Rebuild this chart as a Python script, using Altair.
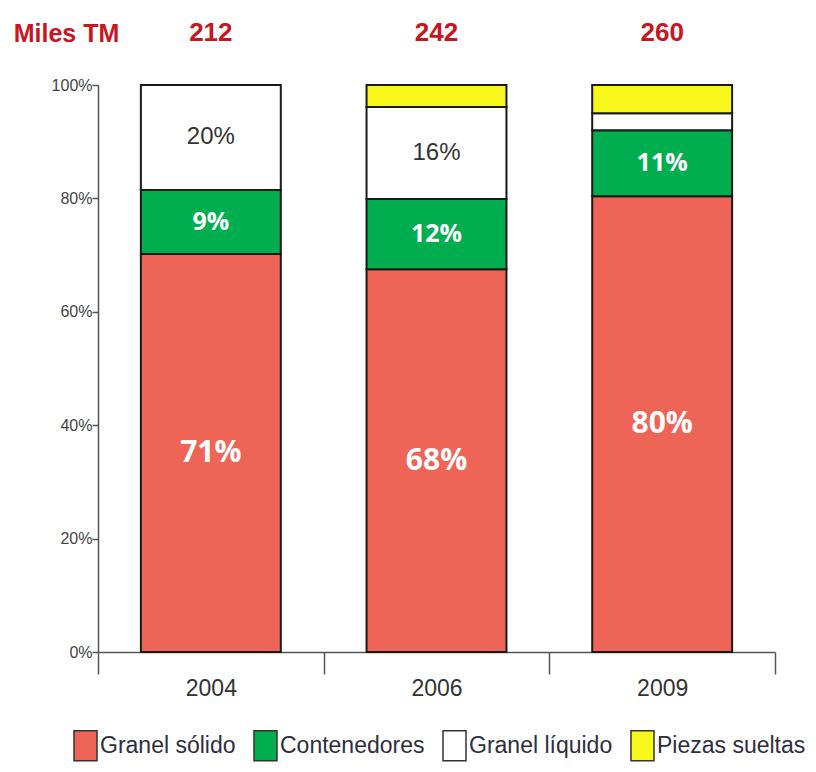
import altair as alt
import pandas as pd

years = ["2004", "2006", "2009"]
totals = ["212", "242", "260"]
categories = ["Granel sólido", "Contenedores", "Granel líquido", "Piezas sueltas"]
colors = ["#EE6558", "#00AD4F", "#FFFFFF", "#F7F71C"]
solido = [70.2, 67.5, 80.4]
contenedores = [11.3, 12.4, 11.6]
liquido = [18.5, 16.2, 3.0]
piezas = [0.0, 3.9, 5.0]
label_solido = ["71%", "68%", "80%"]
label_contenedores = ["9%", "12%", "11%"]
label_liquido = ["20%", "16%", ""]
label_piezas = ["", "", ""]
y_ticks = [0, 20, 40, 60, 80, 100]

series = [solido, contenedores, liquido, piezas]
labels = [label_solido, label_contenedores, label_liquido, label_piezas]

rows = []
for yi, yr in enumerate(years):
    base = 0.0
    for ci, cat in enumerate(categories):
        v = series[ci][yi]
        if v > 0:
            rows.append({"year": yr, "cat": cat, "idx": ci, "value": v,
                         "mid": base + v / 2, "label": labels[ci][yi]})
        base += v
df = pd.DataFrame(rows)
df_tot = pd.DataFrame({"year": years, "total": totals})

SANS = "Liberation Sans, Arial, sans-serif"
RED_TXT = "#C8151F"

x_enc = alt.X("year:N", sort=years,
              scale=alt.Scale(paddingInner=0, paddingOuter=0),
              axis=alt.Axis(title=None, labelAngle=0, tickBand="extent", tickSize=22,
                            tickColor="#555", tickWidth=1.5, domainColor="#555", domainWidth=1.5,
                            labelFont=SANS, labelFontSize=23, labelColor="#333",
                            labelPadding=3))

bars = alt.Chart(df).mark_bar(stroke="#1a1a1a", strokeWidth=2,
                              width=alt.RelativeBandSize(0.62)).encode(
    x=x_enc,
    y=alt.Y("value:Q", stack="zero",
            scale=alt.Scale(domain=[0, 100], nice=False),
            axis=alt.Axis(values=y_ticks, labelExpr="datum.value + '%'", grid=False,
                          title="Miles TM", titleAngle=0, titleX=-32, titleY=-52,
                          titleAlign="center", titleBaseline="middle",
                          titleFont=SANS, titleFontSize=25, titleFontWeight="bold",
                          titleColor=RED_TXT, tickSize=6, tickColor="#555", tickWidth=1.5,
                          domainColor="#555", domainWidth=1.5, labelPadding=0,
                          labelFont=SANS, labelFontSize=16, labelColor="#444")),
    color=alt.Color("cat:N", sort=categories,
                    scale=alt.Scale(domain=categories, range=colors),
                    legend=alt.Legend(title=None, orient="none", legendX=-25, legendY=648,
                                      direction="horizontal",
                                      symbolType="M-1,-1.3H1V1.3H-1Z", symbolSize=529,
                                      symbolStrokeColor="#333", symbolStrokeWidth=1.5,
                                      labelFont=SANS, labelFontSize=23, labelColor="#2e2e3e",
                                      labelOffset=2, columnPadding=15, labelLimit=400)),
    order=alt.Order("idx:Q", sort="ascending"),
)

big = alt.Chart(df).transform_filter(alt.datum.idx == 0).mark_text(
    font="Open Sans", fontWeight="bold", fontSize=30, color="white", baseline="middle"
).encode(x=alt.X("year:N", sort=years), y=alt.Y("mid:Q"), text="label:N")

mid = alt.Chart(df).transform_filter(alt.datum.idx == 1).mark_text(
    font="Open Sans", fontWeight="bold", fontSize=25, color="white", baseline="middle"
).encode(x=alt.X("year:N", sort=years), y=alt.Y("mid:Q"), text="label:N")

dark = alt.Chart(df).transform_filter(alt.datum.idx == 2).mark_text(
    font=SANS, fontSize=24, color="#333", baseline="middle"
).encode(x=alt.X("year:N", sort=years), y=alt.Y("mid:Q"), text="label:N")

tots = alt.Chart(df_tot).mark_text(
    font=SANS, fontSize=26, fontWeight="bold", color=RED_TXT, baseline="middle"
).encode(x=alt.X("year:N", sort=years), y=alt.value(-52), text="total:N")

chart = alt.layer(bars, big, mid, dark, tots).properties(
    width=677, height=567,
    autosize=alt.AutoSizeParams(type="none"),
    padding={"left": 90, "top": 77, "right": 33, "bottom": 112},
    background="white",
).configure_view(stroke=None)

chart.save("out.html", embed_options={"renderer": "svg", "actions": False})
